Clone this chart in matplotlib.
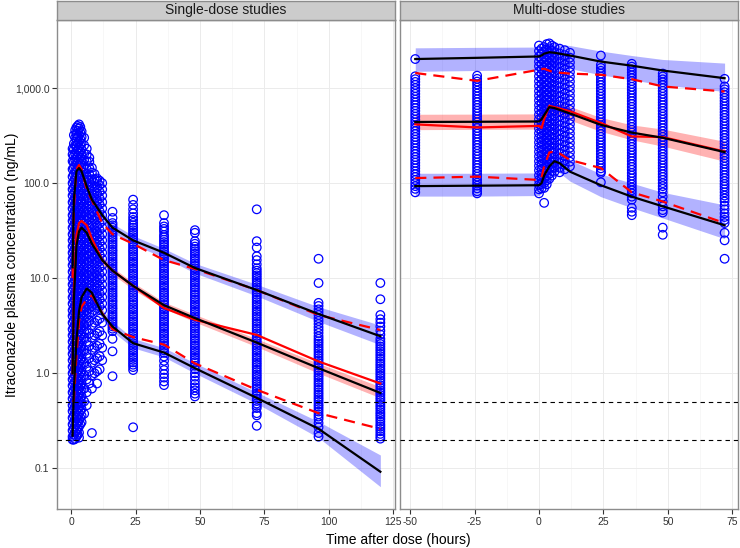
import matplotlib
matplotlib.use("Agg")
import matplotlib.pyplot as plt
from matplotlib.ticker import FixedLocator, NullLocator, NullFormatter

plt.rcParams['font.family'] = ['Liberation Sans', 'DejaVu Sans']

# ---------------- DATA ----------------
panel_titles = ["Single-dose studies", "Multi-dose studies"]
y_ticks = [0.1, 1.0, 10.0, 100.0, 1000.0]
y_ticklabels = ["0.1", "1.0", "10.0", "100.0", "1,000.0"]
x_ticks_sd = [0, 25, 50, 75, 100, 125]
x_ticks_md = [-50, -25, 0, 25, 50, 75]
lloq_lines = [0.5, 0.2]

# observed concentrations, single-dose studies (time -> values)
sd_obs_times = [0.5, 1, 1.5, 2, 2.5, 3, 3.5, 4, 5, 6, 7, 8, 9, 10, 11, 12,
                16, 24, 36, 48, 72, 96, 120]
sd_obs_conc = [
    [230, 200, 170, 140, 117, 100, 86, 74, 63, 54, 46, 40, 34, 29, 25, 21.5, 18.5, 16, 13.7, 11.7, 10, 8.6, 7.4, 6.3, 5.4, 4.6, 4.0, 3.4, 2.9, 2.5, 2.15, 1.85, 1.6, 1.37, 1.17, 1.0, 0.86, 0.74, 0.63, 0.54, 0.46, 0.4, 0.34, 0.29, 0.25, 0.215, 0.2],
    [320, 260, 226, 194, 168, 144, 123, 105, 90, 78, 66, 57, 48.5, 42, 35.7, 30.5, 26.2, 22.6, 19.4, 16.8, 14.4, 12.3, 10.5, 9.0, 7.8, 6.6, 5.7, 4.85, 4.2, 3.57, 3.05, 2.62, 2.26, 1.94, 1.68, 1.44, 1.23, 1.05, 0.9, 0.78, 0.66, 0.57, 0.485, 0.42, 0.357, 0.305, 0.262, 0.226, 0.2],
    [360, 300, 250, 204, 176, 151, 129, 110, 95, 81, 69, 59.5, 50.5, 44, 37.5, 32, 27.5, 23.7, 20.4, 17.6, 15.1, 12.9, 11, 9.5, 8.1, 6.9, 5.95, 5.05, 4.4, 3.75, 3.2, 2.75, 2.37, 2.04, 1.76, 1.51, 1.29, 1.1, 0.95, 0.81, 0.69, 0.595, 0.505, 0.44, 0.375, 0.32, 0.275, 0.237, 0.204],
    [385, 330, 290, 250, 215, 185, 160, 137, 117, 100, 86, 74, 63, 54, 46, 40, 34, 29, 25, 21.5, 18.5, 16, 13.7, 11.7, 10, 8.6, 7.4, 6.3, 5.4, 4.6, 4.0, 3.4, 2.9, 2.5, 2.15, 1.85, 1.6, 1.37, 1.17, 1.0, 0.86, 0.74, 0.63, 0.54, 0.46, 0.4, 0.34, 0.29, 0.25, 0.215],
    [400, 356, 305, 262, 226, 194, 168, 144, 123, 105, 90, 78, 66, 57, 48.5, 42, 35.7, 30.5, 26.2, 22.6, 19.4, 16.8, 14.4, 12.3, 10.5, 9.0, 7.8, 6.6, 5.7, 4.85, 4.2, 3.57, 3.05, 2.62, 2.26, 1.94, 1.68, 1.44, 1.23, 1.05, 0.9, 0.78, 0.66, 0.57, 0.485, 0.42, 0.357, 0.305, 0.262, 0.226],
    [415, 375, 320, 275, 237, 204, 176, 151, 129, 110, 95, 81, 69, 59.5, 50.5, 44, 37.5, 32, 27.5, 23.7, 20.4, 17.6, 15.1, 12.9, 11, 9.5, 8.1, 6.9, 5.95, 5.05, 4.4, 3.75, 3.2, 2.75, 2.37, 2.04, 1.76, 1.51, 1.29, 1.1, 0.95, 0.81, 0.69, 0.595, 0.505, 0.44, 0.375, 0.32, 0.275, 0.237, 0.21],
    [390, 340, 290, 250, 215, 185, 160, 137, 117, 100, 86, 74, 63, 54, 46, 40, 34, 29, 25, 21.5, 18.5, 16, 13.7, 11.7, 10, 8.6, 7.4, 6.3, 5.4, 4.6, 4.0, 3.4, 2.9, 2.5, 2.15, 1.85, 1.6, 1.37, 1.17, 1.0, 0.86, 0.74, 0.63, 0.54, 0.46, 0.4, 0.34, 0.29],
    [350, 305, 262, 226, 194, 168, 144, 123, 105, 90, 78, 66, 57, 48.5, 42, 35.7, 30.5, 26.2, 22.6, 19.4, 16.8, 14.4, 12.3, 10.5, 9.0, 7.8, 6.6, 5.7, 4.85, 4.2, 3.57, 3.05, 2.62, 2.26, 1.94, 1.68, 1.44, 1.23, 1.05, 0.9, 0.78, 0.66, 0.57, 0.485, 0.42, 0.357, 0.305],
    [300, 250, 204, 176, 151, 129, 110, 95, 81, 69, 59.5, 50.5, 44, 37.5, 32, 27.5, 23.7, 20.4, 17.6, 15.1, 12.9, 11, 9.5, 8.1, 6.9, 5.95, 5.05, 4.4, 3.75, 3.2, 2.75, 2.37, 1.76, 1.29, 0.95, 0.69, 0.505, 0.375],
    [230, 200, 170, 140, 117, 100, 86, 74, 63, 54, 46, 40, 34, 29, 25, 21.5, 18.5, 16, 13.7, 11.7, 10, 8.6, 7.4, 6.3, 5.4, 4.6, 4.0, 3.4, 2.9, 2.15, 1.6, 1.17, 0.86, 0.63, 0.46],
    [185, 168, 144, 123, 105, 90, 78, 66, 57, 48.5, 42, 35.7, 30.5, 26.2, 22.6, 19.4, 16.8, 14.4, 12.3, 10.5, 9.0, 7.8, 6.6, 5.7, 4.85, 4.2, 3.57, 2.62, 1.94, 1.44, 1.05, 0.78],
    [145, 129, 110, 95, 81, 69, 59.5, 50.5, 44, 37.5, 32, 27.5, 23.7, 20.4, 17.6, 15.1, 12.9, 11, 9.5, 8.1, 6.9, 5.95, 5.05, 4.4, 3.2, 2.37, 1.76, 1.29, 0.95, 0.69, 0.235],
    [125, 110, 100, 86, 74, 63, 54, 46, 40, 34, 29, 25, 21.5, 18.5, 16, 13.7, 11.7, 10, 8.6, 7.4, 6.3, 5.4, 4.6, 3.4, 2.5, 1.85, 1.37, 1.0],
    [112, 105, 90, 78, 66, 57, 48.5, 42, 35.7, 30.5, 26.2, 22.6, 19.4, 16.8, 14.4, 12.3, 10.5, 9.0, 7.8, 6.6, 5.7, 4.85, 3.57, 2.62, 1.94, 1.44, 1.05, 0.78],
    [106, 95, 81, 69, 59.5, 50.5, 44, 37.5, 32, 27.5, 23.7, 20.4, 17.6, 15.1, 12.9, 11, 9.5, 8.1, 6.9, 5.95, 5.05, 3.75, 2.75, 2.04, 1.51, 1.1],
    [100, 86, 74, 63, 54, 46, 40, 34, 29, 25, 21.5, 18.5, 16, 13.7, 11.7, 10, 8.6, 7.4, 6.3, 5.4, 4.6, 3.4, 2.5, 1.85, 1.37],
    [50, 43, 38, 36.0, 34.0, 32.0, 30.2, 28.5, 26.9, 25.4, 24.0, 22.6, 21.3, 20.0, 19.0, 17.9, 16.9, 15.9, 15.0, 14.2, 13.4, 12.6, 11.9, 11.2, 10.6, 10.0, 9.45, 8.9, 8.4, 7.95, 7.5, 7.05, 6.65, 6.3, 5.9, 5.6, 5.25, 4.95, 4.7, 4.42, 4.17, 3.93, 3.71, 3.5, 3.3, 3.11, 2.94, 2.77, 2.3, 1.7, 0.93],
    [67, 59, 53, 48, 44, 41, 38.2, 36.0, 34.0, 32.0, 30.2, 28.5, 26.9, 25.4, 24.0, 22.6, 21.3, 20.0, 19.0, 17.9, 16.9, 15.9, 15.0, 14.2, 13.4, 12.6, 11.9, 11.2, 10.6, 10.0, 9.45, 8.9, 8.4, 7.95, 7.5, 7.05, 6.65, 6.3, 5.9, 5.6, 5.25, 4.95, 4.7, 4.42, 4.17, 3.93, 3.71, 3.5, 3.3, 3.11, 2.94, 2.77, 2.61, 2.47, 2.33, 2.19, 2.07, 1.95, 1.84, 1.74, 1.64, 1.55, 1.46, 1.38, 1.3, 1.23, 1.16, 1.08, 0.27],
    [46, 38, 35, 33, 31, 28.5, 27.0, 25.4, 24.0, 22.6, 21.3, 20.0, 19.0, 17.9, 16.9, 15.9, 15.0, 14.2, 13.4, 12.6, 11.9, 11.2, 10.6, 10.0, 9.45, 8.9, 8.4, 7.95, 7.5, 7.05, 6.65, 6.3, 5.9, 5.6, 5.25, 4.95, 4.7, 4.42, 4.17, 3.93, 3.71, 3.5, 3.3, 3.11, 2.94, 2.77, 2.61, 2.47, 2.33, 2.19, 2.07, 1.95, 1.84, 1.74, 1.64, 1.5, 1.35, 1.2, 1.08, 0.98, 0.9, 0.82, 0.75],
    [32, 30, 24.5, 23, 21.5, 20.3, 19.2, 18.1, 17.1, 16.1, 15.2, 14.3, 13.5, 12.7, 12.0, 11.3, 10.7, 10.1, 9.55, 9.0, 8.5, 8.0, 7.55, 7.1, 6.7, 6.3, 5.95, 5.6, 5.3, 5.0, 4.72, 4.45, 4.2, 3.96, 3.73, 3.52, 3.32, 3.13, 2.95, 2.78, 2.62, 2.47, 2.33, 2.2, 2.07, 1.95, 1.84, 1.74, 1.64, 1.55, 1.46, 1.38, 1.3, 1.2, 1.1, 1.0, 0.92, 0.84, 0.77, 0.71, 0.66, 0.61, 0.57],
    [53, 24.5, 21, 17, 15.5, 14, 12.7, 12.0, 11.3, 10.7, 10.1, 9.55, 9.0, 8.5, 8.0, 7.55, 7.1, 6.7, 6.3, 5.95, 5.6, 5.3, 5.0, 4.72, 4.45, 4.2, 3.96, 3.73, 3.52, 3.32, 3.13, 2.95, 2.78, 2.62, 2.47, 2.33, 2.2, 2.07, 1.95, 1.84, 1.74, 1.64, 1.55, 1.46, 1.38, 1.3, 1.23, 1.16, 1.09, 1.03, 0.97, 0.92, 0.87, 0.82, 0.77, 0.73, 0.69, 0.65, 0.61, 0.58, 0.54, 0.51, 0.48, 0.455, 0.43, 0.38, 0.36, 0.28],
    [16, 8.9, 5.5, 5.1, 4.7, 4.4, 4.1, 3.8, 3.55, 3.3, 3.05, 2.85, 2.65, 2.45, 2.3, 2.17, 2.05, 1.93, 1.82, 1.72, 1.62, 1.53, 1.44, 1.36, 1.28, 1.21, 1.14, 1.07, 1.01, 0.95, 0.9, 0.85, 0.8, 0.755, 0.71, 0.67, 0.63, 0.595, 0.56, 0.53, 0.5, 0.47, 0.445, 0.42, 0.395, 0.37, 0.35, 0.33, 0.3, 0.27, 0.235, 0.215],
    [8.9, 6.0, 4.1, 3.7, 3.4, 3.1, 2.8, 2.55, 2.3, 2.15, 2.03, 1.91, 1.8, 1.7, 1.6, 1.51, 1.42, 1.34, 1.26, 1.19, 1.12, 1.06, 1.0, 0.945, 0.89, 0.84, 0.79, 0.745, 0.7, 0.66, 0.625, 0.59, 0.555, 0.525, 0.495, 0.465, 0.44, 0.415, 0.39, 0.37, 0.35, 0.33, 0.31, 0.29, 0.275, 0.26, 0.245, 0.23, 0.217, 0.205],
]

# observed concentrations, multi-dose studies
md_obs_times = [-48, -24, 0, 1, 2, 3, 4, 5, 6, 8, 10, 12, 24, 36, 48, 72]
md_obs_conc = [
    [2020, 1330, 1240, 1160, 1080, 1000, 933, 870, 810, 755, 705, 660, 615, 575, 535, 500, 465, 435, 405, 378, 352, 328, 306, 286, 267, 249, 232, 216, 202, 188, 176, 164, 153, 143, 133, 124, 116, 108, 100, 93, 87, 80],
    [1350, 1250, 1170, 1090, 1010, 940, 875, 815, 760, 710, 662, 618, 577, 538, 502, 468, 437, 408, 380, 355, 331, 309, 288, 269, 251, 234, 218, 203, 190, 177, 165, 154, 144, 134, 125, 117, 109, 101, 94, 88, 82, 78],
    [2800, 2450, 2150, 1900, 1700, 1500, 1330, 1180, 1050, 930, 830, 740, 660, 590, 525, 470, 420, 375, 335, 300, 268, 240, 214, 191, 170, 152, 136, 121, 108, 96, 86, 78],
    [2600, 2300, 2020, 1780, 1580, 1400, 1240, 1100, 980, 870, 775, 690, 615, 548, 488, 435, 388, 346, 308, 275, 245, 218, 195, 174, 155, 138, 123, 110, 98, 88],
    [2700, 2380, 2100, 1860, 1640, 1450, 1290, 1140, 1010, 900, 800, 710, 632, 562, 500, 445, 397, 354, 316, 282, 251, 224, 200, 178, 159, 142, 126, 112, 100, 89, 62],
    [2900, 2550, 2250, 1990, 1760, 1560, 1380, 1220, 1085, 965, 858, 763, 679, 604, 538, 479, 427, 380, 339, 302, 269, 240, 214, 191, 170, 152, 135, 120, 107, 97],
    [2950, 2620, 2320, 2050, 1820, 1610, 1430, 1270, 1130, 1000, 890, 792, 705, 627, 558, 497, 442, 394, 351, 313, 279, 249, 222, 198, 176, 157, 140, 125, 111],
    [2800, 2480, 2200, 1950, 1730, 1535, 1360, 1210, 1075, 955, 850, 756, 672, 598, 532, 474, 422, 376, 335, 298, 266, 237, 211, 188, 168, 150, 134, 120],
    [2700, 2400, 2130, 1890, 1680, 1490, 1325, 1180, 1050, 935, 832, 740, 658, 586, 522, 465, 414, 369, 329, 293, 261, 233, 208, 186, 166, 148, 132],
    [2600, 2310, 2050, 1820, 1620, 1440, 1280, 1140, 1015, 905, 806, 718, 640, 570, 508, 453, 404, 360, 321, 286, 255, 228, 203, 181, 162, 145, 130],
    [2500, 2220, 1970, 1750, 1555, 1385, 1232, 1097, 977, 870, 775, 690, 615, 548, 488, 435, 388, 346, 308, 275, 245, 219, 195, 174, 156, 140],
    [2350, 2090, 1860, 1655, 1475, 1315, 1172, 1045, 932, 831, 741, 661, 590, 526, 469, 418, 373, 333, 297, 265, 236, 211, 188, 168, 150],
    [2200, 1750, 1630, 1520, 1420, 1320, 1235, 1150, 1075, 1000, 933, 870, 810, 755, 705, 660, 615, 575, 535, 500, 465, 435, 405, 378, 352, 328, 306, 286, 267, 249, 232, 216, 202, 188, 176, 164, 153, 143, 133, 128, 102],
    [1800, 1680, 1570, 1460, 1360, 1270, 1185, 1105, 1030, 960, 895, 835, 780, 728, 680, 634, 592, 552, 515, 480, 448, 418, 390, 364, 340, 317, 296, 276, 257, 240, 224, 209, 195, 182, 170, 158, 148, 138, 128, 120, 112, 104, 97, 90, 84, 78, 72, 67, 55, 50, 46],
    [1420, 1325, 1235, 1150, 1075, 1000, 933, 870, 810, 755, 705, 660, 615, 575, 535, 500, 465, 435, 405, 378, 352, 328, 306, 286, 267, 249, 232, 216, 202, 188, 176, 164, 153, 143, 133, 124, 116, 108, 100, 93, 87, 80, 72, 64, 57, 52, 49, 34, 28.6],
    [1250, 1040, 970, 905, 845, 788, 735, 686, 640, 597, 557, 520, 485, 452, 422, 394, 367, 343, 320, 298, 278, 260, 242, 226, 211, 197, 184, 171, 160, 149, 139, 130, 121, 113, 105, 98, 92, 86, 80, 74, 69, 64, 58, 53, 48, 44, 41, 38, 30, 25, 16],
]

# percentile lines, single-dose
sd_pt = [0.5, 1, 2, 3, 4, 6, 8, 12, 16, 24, 36, 48, 72, 96, 120]
sd_sim_p95 = [13, 67, 133, 144, 133, 92, 67, 46, 34, 25, 18.5, 12.8, 7.5, 4.2, 2.45]
sd_sim_p95_lo = [10, 55, 118, 130, 120, 83, 60, 41, 30.5, 22.5, 16.5, 11.3, 6.5, 3.5, 1.99]
sd_sim_p95_hi = [16, 80, 150, 160, 148, 102, 75, 51, 37.5, 28, 20.5, 14.3, 8.6, 5.0, 3.2]
sd_obs_p95 = [10, 55, 140, 155, 140, 85, 66, 38, 29, 23, 15.5, 12.5, 7.5, 4.1, 2.85]
sd_sim_p50 = [1.0, 6, 22, 31, 34, 30, 23, 15.5, 12, 8.3, 5.2, 3.8, 2.1, 1.13, 0.62]
sd_sim_p50_lo = [0.85, 5.2, 19.5, 28, 31, 27.5, 21, 14.2, 11, 7.6, 4.8, 3.45, 1.9, 1.0, 0.55]
sd_sim_p50_hi = [1.2, 7, 25, 34, 37, 33, 25, 17, 13, 9.0, 5.6, 4.15, 2.3, 1.27, 0.72]
sd_obs_p50 = [1.0, 8, 28, 38, 40, 36, 26, 15.5, 12, 8.3, 4.85, 3.65, 2.53, 1.33, 0.78]
sd_sim_p05 = [0.22, 0.67, 2.2, 4.5, 6.3, 7.8, 7.0, 4.2, 3.1, 2.07, 1.65, 1.13, 0.55, 0.26, 0.092]
sd_sim_p05_lo = [0.18, 0.55, 1.9, 3.9, 5.5, 6.9, 6.2, 3.7, 2.75, 1.85, 1.48, 1.0, 0.48, 0.21, 0.064]
sd_sim_p05_hi = [0.27, 0.8, 2.55, 5.1, 7.1, 8.8, 7.9, 4.7, 3.5, 2.32, 1.85, 1.28, 0.63, 0.31, 0.138]
sd_obs_p05 = [0.5, 0.52, 1.5, 3.5, 5.0, 6.0, 6.6, 4.3, 2.9, 2.4, 2.0, 1.27, 0.67, 0.38, 0.26]

# percentile lines, multi-dose
md_pt = [-48, -24, 0, 1, 2, 4, 6, 8, 12, 24, 36, 48, 72]
md_sim_p95 = [2020, 2080, 2150, 2200, 2300, 2380, 2350, 2300, 2200, 1900, 1720, 1530, 1270]
md_sim_p95_lo = [1500, 1530, 1560, 1600, 1680, 1750, 1720, 1680, 1600, 1380, 1220, 1080, 920]
md_sim_p95_hi = [2650, 2680, 2700, 2780, 2880, 2950, 2920, 2880, 2800, 2450, 2200, 2000, 1830]
md_obs_p95 = [1440, 1190, 1560, 1580, 1600, 1520, 1460, 1450, 1420, 1380, 1240, 1040, 920]
md_sim_p50 = [440, 442, 445, 470, 520, 630, 615, 590, 540, 410, 340, 300, 212]
md_sim_p50_lo = [365, 368, 370, 390, 430, 540, 525, 505, 460, 350, 285, 245, 170]
md_sim_p50_hi = [530, 532, 535, 565, 620, 740, 720, 690, 640, 490, 410, 370, 275]
md_obs_p50 = [415, 385, 400, 380, 470, 650, 630, 610, 570, 430, 310, 305, 215]
md_sim_p05 = [93, 94, 95, 100, 120, 150, 170, 162, 132, 95, 72, 57, 36]
md_sim_p05_lo = [73, 73, 74, 78, 95, 120, 135, 128, 105, 72, 55, 43, 26]
md_sim_p05_hi = [127, 127, 128, 134, 160, 195, 220, 208, 175, 125, 100, 80, 59]
md_obs_p05 = [113, 117, 108, 115, 150, 210, 215, 205, 175, 144, 80, 64, 38]

# ---------------- FIGURE ----------------
W, H = 740, 548
fig = plt.figure(figsize=(W / 100, H / 100), dpi=100)

def px_axes(x0, x1, ytop, ybot):
    return [x0 / W, 1 - ybot / H, (x1 - x0) / W, (ybot - ytop) / H]

ax1 = fig.add_axes(px_axes(57, 395.3, 20, 509))
ax2 = fig.add_axes(px_axes(400.3, 738, 20, 509))

BORDER = '#8C8C8C'
GRID = '#EBEBEB'
TXT = '#333333'

def draw_panel(ax, obs_t, obs_c, pt, p95, p95lo, p95hi, o95, p50, p50lo, p50hi, o50,
               p05, p05lo, p05hi, o05, xlim, xticks, show_y):
    ax.set_yscale('log')
    ax.set_xlim(*xlim)
    ax.set_ylim(0.0373, 5200)
    # ribbons
    ax.fill_between(pt, p95lo, p95hi, color='#0000FF', alpha=0.3, lw=0, zorder=2)
    ax.fill_between(pt, p05lo, p05hi, color='#0000FF', alpha=0.3, lw=0, zorder=2)
    ax.fill_between(pt, p50lo, p50hi, color='#FF0000', alpha=0.3, lw=0, zorder=2)
    # observations
    for t, vals in zip(obs_t, obs_c):
        ax.scatter([t] * len(vals), vals, s=38, facecolors='none',
                   edgecolors='#0000FF', linewidths=0.9, zorder=3)
    # lines
    for ser in (p95, p50, p05):
        ax.plot(pt, ser, color='black', lw=1.6, zorder=5, solid_joinstyle='round')
    ax.plot(pt, o50, color='#FF0000', lw=1.6, zorder=4)
    for ser in (o95, o05):
        ax.plot(pt, ser, color='#FF0000', lw=1.6, zorder=4, dashes=(5, 3.2))
    for v in lloq_lines:
        ax.axhline(v, color='black', lw=0.8, dashes=(4, 3.5), zorder=6)
    # grid
    ax.set_xticks(xticks)
    minors = [(a + b) / 2 for a, b in zip(xticks[:-1], xticks[1:])]
    ax.xaxis.set_minor_locator(FixedLocator(minors))
    ax.yaxis.set_major_locator(FixedLocator(y_ticks))
    ax.yaxis.set_minor_locator(NullLocator())
    ax.yaxis.set_minor_formatter(NullFormatter())
    ax.grid(True, which='major', color=GRID, lw=0.7, zorder=0)
    ax.grid(True, which='minor', axis='x', color='#F4F4F4', lw=0.5, zorder=0)
    ax.set_axisbelow(True)
    ax.set_xticklabels([str(t) for t in xticks], fontsize=7.5, color=TXT)
    if show_y:
        ax.set_yticklabels(y_ticklabels, fontsize=7.5, color=TXT)
        ax.tick_params(axis='y', which='major', length=3.5, width=0.8, colors=TXT, pad=2)
    else:
        ax.tick_params(axis='y', which='both', left=False, labelleft=False)
    ax.tick_params(axis='x', which='major', length=3.5, width=0.8, colors=TXT, pad=2)
    ax.tick_params(axis='x', which='minor', length=0)
    for sp in ax.spines.values():
        sp.set_color(BORDER)
        sp.set_linewidth(1.0)

draw_panel(ax1, sd_obs_times, sd_obs_conc, sd_pt, sd_sim_p95, sd_sim_p95_lo, sd_sim_p95_hi,
           sd_obs_p95, sd_sim_p50, sd_sim_p50_lo, sd_sim_p50_hi, sd_obs_p50,
           sd_sim_p05, sd_sim_p05_lo, sd_sim_p05_hi, sd_obs_p05,
           (-5.55, 125.8), x_ticks_sd, True)
draw_panel(ax2, md_obs_times, md_obs_conc, md_pt, md_sim_p95, md_sim_p95_lo, md_sim_p95_hi,
           md_obs_p95, md_sim_p50, md_sim_p50_lo, md_sim_p50_hi, md_obs_p50,
           md_sim_p05, md_sim_p05_lo, md_sim_p05_hi, md_obs_p05,
           (-53.8, 77.2), x_ticks_md, False)

# strips
for (x0, x1), title in zip([(57, 395.3), (400.3, 738)], panel_titles):
    sax = fig.add_axes(px_axes(x0, x1, 0.5, 20))
    sax.set_facecolor('#CCCCCC')
    sax.set_xticks([]); sax.set_yticks([])
    for sp in sax.spines.values():
        sp.set_color(BORDER)
        sp.set_linewidth(1.0)
    sax.text(0.5, 0.5, title, ha='center', va='center', fontsize=10, color='#1A1A1A',
             transform=sax.transAxes)

fig.text(398 / W, 1 - 540 / H, "Time after dose (hours)", ha='center', va='center', fontsize=10)
fig.text(12 / W, 1 - 264.5 / H, "Itraconazole plasma concentration (ng/mL)", ha='center',
         va='center', rotation=90, fontsize=10)

fig.savefig("out.png", dpi=100)
